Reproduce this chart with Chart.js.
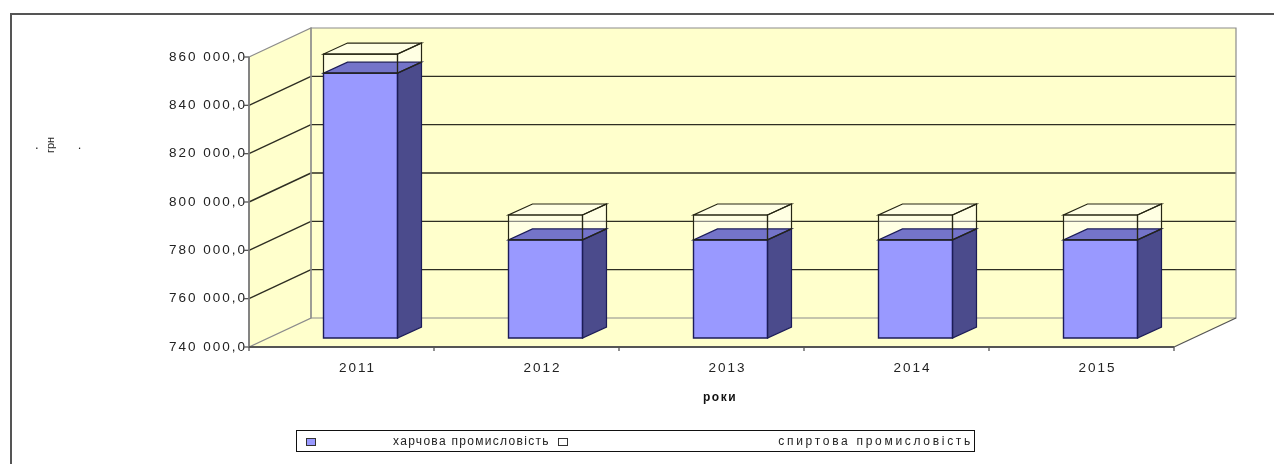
<!DOCTYPE html>
<html>
<head>
<meta charset="utf-8">
<script src="https://cdn.jsdelivr.net/npm/chart.js@4.4.1/dist/chart.umd.min.js"></script>
<style>
  html, body { margin: 0; padding: 0; background: #fff; }
  #wrap { position: relative; width: 1274px; height: 464px; overflow: hidden; font-family: "Liberation Sans", Arial, sans-serif; }
  #frame { position: absolute; left: 10px; top: 13px; width: 1300px; height: 500px; border: 2px solid #555; box-sizing: border-box; }
  #unit { position: absolute; left: 35px; top: 137px; font-size: 13px; color: #222; }
  #unit .rot { display: inline-block; transform: rotate(-90deg); font-size: 11px; margin: 0 20px 0 3px; }
  #legend { position: absolute; left: 296px; top: 430px; width: 679px; height: 22px; border: 1px solid #111; box-sizing: border-box; font-size: 12px; color: #222; letter-spacing: 1.3px; }
  #legend .sw { position: absolute; top: 7px; width: 8px; height: 6px; border: 1px solid #333; }
  #legend .txt { position: absolute; top: 3px; white-space: nowrap; }
</style>
</head>
<body>
<div id="wrap">
  <div id="frame"></div>
  <canvas id="chart"></canvas>
  <div id="unit">.<span class="rot">грн</span>.</div>
  <div id="legend">
    <span class="sw" style="left:9px;background:#9999ff;"></span>
    <span class="txt" style="left:96px;">харчова промисловість</span>
    <span class="sw" style="left:261px;background:#fff;"></span>
    <span class="txt" style="right:1px;letter-spacing:2.7px;">спиртова промисловість</span>
  </div>
</div>
<script>
// years and values, UAH
const years = ['2011', '2012', '2013', '2014', '2015'];
const foodIndustry = [849600, 780600, 780600, 780600, 780600];
const spiritIndustry = [7900, 10300, 10300, 10300, 10300];
const yMin = 740000, yMax = 860000, yStep = 20000;
const xTitle = 'роки';

// oblique projection offsets relative to the bar plane
const FRONT = { x: -19, y: 9 };
const BACK = { x: 43, y: -20 };
const DEPTH = { x: 24, y: -11 };

const WALL = '#ffffcc';
const EDGE = '#8c8c8c';
const GRID = '#2e2e22';
const FONT = '"Liberation Sans", Arial, sans-serif';

function fmt(v) {
  return String(Math.round(v)).replace(/\B(?=(\d{3})+(?!\d))/g, ' ') + ',0';
}

function poly(ctx, pts, fill, stroke, lw) {
  ctx.beginPath();
  ctx.moveTo(pts[0][0], pts[0][1]);
  for (let i = 1; i < pts.length; i++) ctx.lineTo(pts[i][0], pts[i][1]);
  ctx.closePath();
  if (fill) { ctx.fillStyle = fill; ctx.fill(); }
  if (stroke) { ctx.strokeStyle = stroke; ctx.lineWidth = lw || 1; ctx.stroke(); }
}

function line(ctx, x1, y1, x2, y2, color, lw) {
  ctx.beginPath();
  ctx.moveTo(x1, y1);
  ctx.lineTo(x2, y2);
  ctx.strokeStyle = color;
  ctx.lineWidth = lw;
  ctx.stroke();
}

const box3d = {
  id: 'box3d',
  beforeDraw(chart) {
    // wide-set lettering for all canvas text
    chart.ctx.letterSpacing = '2px';
  },
  beforeDatasetsDraw(chart) {
    const { ctx, chartArea: a, scales: { x, y } } = chart;
    const fl = a.left + FRONT.x, fr = a.right + FRONT.x, ft = a.top + FRONT.y, fb = a.bottom + FRONT.y;
    const bl = a.left + BACK.x, br = a.right + BACK.x, bt = a.top + BACK.y, bb = a.bottom + BACK.y;
    ctx.save();
    // walls and floor
    poly(ctx, [[bl, bt], [br, bt], [br, bb], [bl, bb]], WALL);
    poly(ctx, [[fl, ft], [bl, bt], [bl, bb], [fl, fb]], WALL);
    poly(ctx, [[fl, fb], [bl, bb], [br, bb], [fr, fb]], WALL);
    // value gridlines along the side wall and back wall
    y.ticks.forEach(t => {
      const py = y.getPixelForValue(t.value);
      if (t.value > yMin && t.value < yMax) {
        line(ctx, fl, py + FRONT.y, bl, py + BACK.y, GRID, 1.4);
        line(ctx, bl, py + BACK.y, br, py + BACK.y, GRID, 1.4);
      }
      line(ctx, fl - 5, py + FRONT.y, fl, py + FRONT.y, '#555', 1.3);
    });
    // wall edges
    poly(ctx, [[bl, bt], [br, bt], [br, bb], [bl, bb]], null, EDGE, 1.2);
    poly(ctx, [[fl, ft], [bl, bt], [bl, bb], [fl, fb]], null, EDGE, 1.2);
    line(ctx, fr, fb, br, bb, '#555', 1.3);
    line(ctx, fl, ft, fl, fb, '#777', 1.6);
    line(ctx, fl, fb, fr, fb, '#555', 2);
    // category boundary ticks on the front edge
    const cw = x.getPixelForValue(1) - x.getPixelForValue(0);
    for (let i = 0; i <= years.length; i++) {
      const px = x.getPixelForValue(0) - cw / 2 + i * cw + FRONT.x;
      line(ctx, px, fb, px, fb + 4, '#555', 1.3);
    }
    ctx.restore();
  },
  afterDatasetsDraw(chart) {
    const { ctx, chartArea: a } = chart;
    const food = chart.getDatasetMeta(0).data;
    const spirit = chart.getDatasetMeta(1).data;
    ctx.save();
    food.forEach((bar, i) => {
      const top = spirit[i];
      const x0 = bar.x - bar.width / 2, x1 = bar.x + bar.width / 2;
      const bottom = Math.min(bar.base, a.bottom);
      const dx = DEPTH.x, dy = DEPTH.y;
      // translucent upper block
      poly(ctx, [[x1, top.y], [x1 + dx, top.y + dy], [x1 + dx, top.base + dy], [x1, top.base]], 'rgba(255,255,255,0.45)');
      poly(ctx, [[x0, top.y], [x1, top.y], [x1 + dx, top.y + dy], [x0 + dx, top.y + dy]], 'rgba(255,255,255,0.45)');
      // lower block: side, top, front outline
      poly(ctx, [[x1, bar.y], [x1 + dx, bar.y + dy], [x1 + dx, bottom + dy], [x1, bottom]], '#4b4b8c', '#1c1c58', 1.2);
      poly(ctx, [[x0, bar.y], [x1, bar.y], [x1 + dx, bar.y + dy], [x0 + dx, bar.y + dy]], '#7474c9', '#1c1c58', 1.2);
      poly(ctx, [[x0, bar.y], [x1, bar.y], [x1, bottom], [x0, bottom]], null, '#1c1c58', 1.4);
      // upper block edges
      poly(ctx, [[x0, top.y], [x1, top.y], [x1, top.base], [x0, top.base]], null, '#262614', 1.2);
      poly(ctx, [[x0, top.y], [x1, top.y], [x1 + dx, top.y + dy], [x0 + dx, top.y + dy]], null, '#262614', 1.2);
      poly(ctx, [[x1, top.y], [x1 + dx, top.y + dy], [x1 + dx, top.base + dy], [x1, top.base]], null, '#262614', 1.2);
    });
    // axis title under the year labels
    ctx.fillStyle = '#111';
    ctx.letterSpacing = '1.5px';
    ctx.font = 'bold 12px ' + FONT;
    ctx.textAlign = 'center';
    ctx.textBaseline = 'middle';
    ctx.fillText(xTitle, 720, 398);
    ctx.restore();
  }
};

new Chart(document.getElementById('chart'), {
  type: 'bar',
  data: {
    labels: years,
    datasets: [
      { label: 'харчова промисловість', data: foodIndustry, backgroundColor: '#9999ff', borderWidth: 0 },
      { label: 'спиртова промисловість', data: spiritIndustry, backgroundColor: 'rgba(255,255,255,0.45)', borderWidth: 0 }
    ]
  },
  options: {
    responsive: true,
    maintainAspectRatio: false,
    animation: false,
    events: [],
    layout: { padding: { left: 10, top: 48, right: 81, bottom: 0 } },
    datasets: { bar: { categoryPercentage: 1, barPercentage: 0.4 } },
    plugins: { legend: { display: false }, tooltip: { enabled: false } },
    scales: {
      x: {
        stacked: true,
        grid: { display: false, drawTicks: false },
        border: { display: false },
        ticks: { padding: 22, labelOffset: -3, color: '#222', font: { family: FONT, size: 13.5 } },
        afterFit(s) { s.height = 126; }
      },
      y: {
        stacked: true,
        min: yMin,
        max: yMax,
        grid: { display: false, drawTicks: false },
        border: { display: false },
        ticks: { stepSize: yStep, padding: 21, labelOffset: 9, color: '#222', font: { family: FONT, size: 13.5 }, callback: v => fmt(v) },
        afterFit(s) { s.width = 258; }
      }
    }
  },
  plugins: [box3d]
});
</script>
</body>
</html>
